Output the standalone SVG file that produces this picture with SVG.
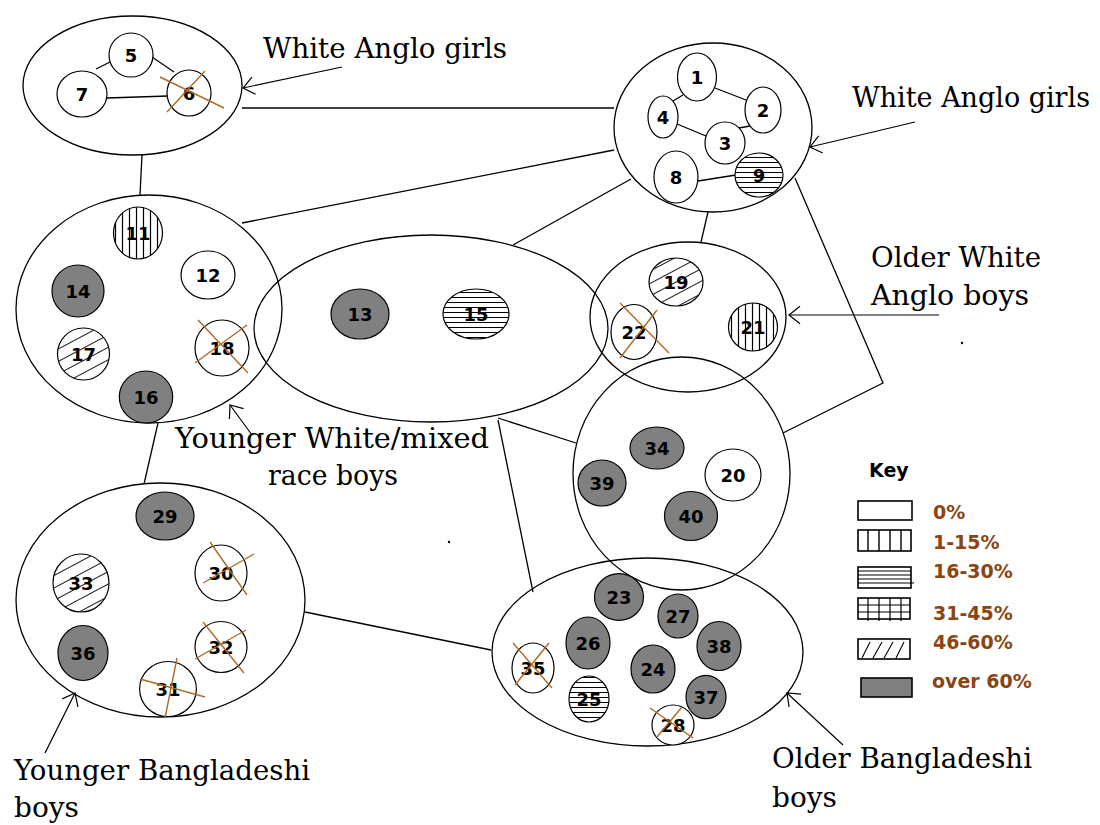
<svg xmlns="http://www.w3.org/2000/svg" width="1100" height="825" viewBox="0 0 1100 825">
<style>
.cl{fill:none;stroke:#000;stroke-width:1.3}
.nd{stroke:#000;stroke-width:1.2}
.w{fill:#fff}
.g{fill:#808080}
.pv{fill:url(#pv)}
.ph{fill:url(#ph)}
.pd{fill:url(#pd)}
.num{font-family:"DejaVu Sans",Verdana,sans-serif;font-weight:bold;font-size:18px;text-anchor:middle;fill:#000}
.x{stroke:#B06A25;stroke-width:1.4}
.ln{stroke:#000;stroke-width:1.3;fill:none}
.ar{stroke:#000;stroke-width:1.2;fill:none;marker-end:url(#ah)}
.lbl{font-family:"DejaVu Serif","Liberation Serif",serif;font-size:28px;fill:#000}
.kt{font-family:"DejaVu Sans",Verdana,sans-serif;font-weight:bold;font-size:19px;fill:#8B4513}
.kb{fill:#fff;stroke:#000;stroke-width:1.6}
.kl{stroke:#000;stroke-width:1.4}
</style>
<defs>
<pattern id="pv" patternUnits="userSpaceOnUse" width="7" height="7"><rect width="7" height="7" fill="#fff"/><line x1="3.5" y1="0" x2="3.5" y2="7" stroke="#000" stroke-width="1.2"/></pattern>
<pattern id="ph" patternUnits="userSpaceOnUse" width="5" height="5"><rect width="5" height="5" fill="#fff"/><line x1="0" y1="2.5" x2="5" y2="2.5" stroke="#000" stroke-width="1"/></pattern>
<pattern id="pd" patternUnits="userSpaceOnUse" width="11" height="11" patternTransform="rotate(-28)"><rect width="11" height="11" fill="#fff"/><line x1="0" y1="5.5" x2="11" y2="5.5" stroke="#000" stroke-width="0.9"/></pattern>
<marker id="ah" viewBox="0 0 10 16" refX="10" refY="8" markerWidth="11" markerHeight="17.6" markerUnits="userSpaceOnUse" orient="auto" style="overflow:visible"><path d="M0,0 L10,8 L0,16" fill="none" stroke="#000" stroke-width="1.1"/></marker>
</defs>
<rect width="1100" height="825" fill="#fff"/>

<g id="connectors">
<line class="ln" x1="242" y1="108" x2="614" y2="108"/>
<line class="ln" x1="142" y1="155" x2="140" y2="195"/>
<line class="ln" x1="614" y1="150" x2="242" y2="223"/>
<line class="ln" x1="631" y1="179" x2="513" y2="245"/>
<line class="ln" x1="708" y1="212" x2="701" y2="242"/>
<polyline class="ln" points="795,178 883,383 783,433"/>
<line class="ln" x1="498" y1="418" x2="576" y2="443"/>
<line class="ln" x1="498" y1="420" x2="533" y2="592"/>
<line class="ln" x1="158" y1="423" x2="144" y2="484"/>
<line class="ln" x1="305" y1="612" x2="491" y2="650"/>
<line class="ln" x1="96" y1="69" x2="110" y2="62"/>
<line class="ln" x1="152" y1="57" x2="174" y2="72"/>
<line class="ln" x1="107" y1="98" x2="168" y2="96"/>
<line class="ln" x1="683" y1="95" x2="673" y2="101"/>
<line class="ln" x1="715" y1="88" x2="746" y2="100"/>
<line class="ln" x1="677" y1="124" x2="706" y2="136"/>
<line class="ln" x1="739" y1="128" x2="750" y2="126"/>
<line class="ln" x1="698" y1="181" x2="736" y2="175"/>
</g>

<g id="clusters">
<ellipse id="cl-girls-a" class="cl" cx="132.5" cy="85.5" rx="109.5" ry="69.5"/>
<ellipse id="cl-girls-b" class="cl" cx="713" cy="127.5" rx="99" ry="84.5"/>
<ellipse id="cl-younger-white" class="cl" cx="149" cy="309" rx="133" ry="114"/>
<ellipse id="cl-middle" class="cl" cx="431" cy="328.5" rx="177" ry="93.5"/>
<ellipse id="cl-older-white" class="cl" cx="688" cy="317" rx="98" ry="75"/>
<ellipse id="cl-right" class="cl" cx="681.5" cy="473.5" rx="108.5" ry="116.5"/>
<ellipse id="cl-younger-bangla" class="cl" cx="160.5" cy="600" rx="144.5" ry="117"/>
<ellipse id="cl-older-bangla" class="cl" cx="647.5" cy="652" rx="155.5" ry="94"/>
</g>

<g id="n5"><ellipse class="nd w" cx="131" cy="55" rx="22" ry="22"/><text class="num" x="131" y="61.5">5</text></g>
<g id="n7"><ellipse class="nd w" cx="82" cy="94" rx="25" ry="23"/><text class="num" x="82" y="100.5">7</text></g>
<g id="n6"><ellipse class="nd w" cx="189" cy="93" rx="22" ry="23"/><text class="num" x="189" y="99.5">6</text><line class="x" x1="160" y1="77" x2="224" y2="108"/><line class="x" x1="167" y1="112" x2="205" y2="71"/></g>

<g id="n1"><ellipse class="nd w" cx="697" cy="77" rx="19.5" ry="24"/><text class="num" x="697" y="83.5">1</text></g>
<g id="n2"><ellipse class="nd w" cx="763" cy="110" rx="18" ry="23"/><text class="num" x="763" y="116.5">2</text></g>
<g id="n4"><ellipse class="nd w" cx="663" cy="117" rx="15" ry="21"/><text class="num" x="663" y="123.5">4</text></g>
<g id="n3"><ellipse class="nd w" cx="725" cy="143" rx="20" ry="21"/><text class="num" x="725" y="149.5">3</text></g>
<g id="n8"><ellipse class="nd w" cx="676" cy="177" rx="22" ry="26"/><text class="num" x="676" y="183.5">8</text></g>
<g id="n9"><ellipse class="nd ph" cx="759" cy="175" rx="24" ry="22"/><text class="num" x="759" y="181.5">9</text></g>

<g id="n11"><ellipse class="nd pv" cx="138" cy="233" rx="24.5" ry="26"/><text class="num" x="138" y="239.5">11</text></g>
<g id="n12"><ellipse class="nd w" cx="208" cy="275" rx="27" ry="24"/><text class="num" x="208" y="281.5">12</text></g>
<g id="n14"><ellipse class="nd g" cx="78" cy="291" rx="26" ry="26"/><text class="num" x="78" y="297.5">14</text></g>
<g id="n17"><ellipse class="nd pd" cx="83.5" cy="354" rx="26" ry="26"/><text class="num" x="83.5" y="360.5">17</text></g>
<g id="n18"><ellipse class="nd w" cx="222" cy="348" rx="27" ry="28"/><text class="num" x="222" y="354.5">18</text><line class="x" x1="198" y1="320" x2="248" y2="373"/><line class="x" x1="195" y1="363" x2="247" y2="325"/></g>
<g id="n16"><ellipse class="nd g" cx="146" cy="397" rx="26.7" ry="26"/><text class="num" x="146" y="403.5">16</text></g>

<g id="n13"><ellipse class="nd g" cx="360" cy="314" rx="29" ry="25"/><text class="num" x="360" y="320.5">13</text></g>
<g id="n15"><ellipse class="nd ph" cx="476" cy="314" rx="33" ry="25"/><text class="num" x="476" y="320.5">15</text></g>

<g id="n19"><ellipse class="nd pd" cx="676" cy="282" rx="27" ry="24"/><text class="num" x="676" y="288.5">19</text></g>
<g id="n22"><ellipse class="nd w" cx="634" cy="332" rx="23" ry="27.5"/><text class="num" x="634" y="338.5">22</text><line class="x" x1="620" y1="303" x2="669" y2="353"/><line class="x" x1="620" y1="358" x2="657" y2="310"/></g>
<g id="n21"><ellipse class="nd pv" cx="753" cy="327" rx="24.5" ry="24"/><text class="num" x="753" y="333.5">21</text></g>

<g id="n34"><ellipse class="nd g" cx="657" cy="448" rx="27" ry="21"/><text class="num" x="657" y="454.5">34</text></g>
<g id="n39"><ellipse class="nd g" cx="602" cy="483" rx="24" ry="23"/><text class="num" x="602" y="489.5">39</text></g>
<g id="n20"><ellipse class="nd w" cx="733" cy="475" rx="28" ry="26"/><text class="num" x="733" y="481.5">20</text></g>
<g id="n40"><ellipse class="nd g" cx="691" cy="516" rx="26.5" ry="24.5"/><text class="num" x="691" y="522.5">40</text></g>

<g id="n29"><ellipse class="nd g" cx="165" cy="516" rx="29" ry="24"/><text class="num" x="165" y="522.5">29</text></g>
<g id="n33"><ellipse class="nd pd" cx="81" cy="583" rx="28" ry="29"/><text class="num" x="81" y="589.5">33</text></g>
<g id="n30"><ellipse class="nd w" cx="221" cy="573" rx="26" ry="28"/><text class="num" x="221" y="579.5">30</text><line class="x" x1="210" y1="542" x2="247" y2="595"/><line class="x" x1="203" y1="583" x2="254" y2="554"/></g>
<g id="n36"><ellipse class="nd g" cx="83" cy="653" rx="25" ry="27.5"/><text class="num" x="83" y="659.5">36</text></g>
<g id="n32"><ellipse class="nd w" cx="221" cy="647" rx="26" ry="25.5"/><text class="num" x="221" y="653.5">32</text><line class="x" x1="203" y1="622" x2="244" y2="673"/><line class="x" x1="195" y1="659" x2="246" y2="630"/></g>
<g id="n31"><ellipse class="nd w" cx="168" cy="689" rx="28.4" ry="27.5"/><text class="num" x="168" y="695.5">31</text><line class="x" x1="140" y1="679" x2="205" y2="697"/><line class="x" x1="177" y1="658" x2="165" y2="718"/></g>

<g id="n23"><ellipse class="nd g" cx="619" cy="597" rx="24.5" ry="23.3"/><text class="num" x="619" y="603.5">23</text></g>
<g id="n27"><ellipse class="nd g" cx="678" cy="616" rx="20" ry="22"/><text class="num" x="678" y="622.5">27</text></g>
<g id="n26"><ellipse class="nd g" cx="588" cy="643" rx="22" ry="26"/><text class="num" x="588" y="649.5">26</text></g>
<g id="n38"><ellipse class="nd g" cx="719" cy="646" rx="22" ry="24.5"/><text class="num" x="719" y="652.5">38</text></g>
<g id="n24"><ellipse class="nd g" cx="653" cy="669" rx="22" ry="24"/><text class="num" x="653" y="675.5">24</text></g>
<g id="n35"><ellipse class="nd w" cx="533" cy="668" rx="21" ry="25"/><text class="num" x="533" y="674.5">35</text><line class="x" x1="513" y1="643" x2="552" y2="688"/><line class="x" x1="515" y1="685" x2="549" y2="643"/></g>
<g id="n25"><ellipse class="nd ph" cx="589" cy="699" rx="20" ry="23"/><text class="num" x="589" y="705.5">25</text></g>
<g id="n37"><ellipse class="nd g" cx="706" cy="697" rx="20" ry="21.7"/><text class="num" x="706" y="703.5">37</text></g>
<g id="n28"><ellipse class="nd w" cx="673" cy="725" rx="21" ry="20"/><text class="num" x="673" y="731.5">28</text><line class="x" x1="650" y1="708" x2="693" y2="738"/><line class="x" x1="657" y1="737" x2="682" y2="707"/></g>

<g id="annotations">
<line class="ar" x1="342" y1="67" x2="243" y2="88"/>
<text class="lbl" x="263" y="58" textLength="244" lengthAdjust="spacingAndGlyphs">White Anglo girls</text>
<line class="ar" x1="915" y1="122" x2="810" y2="147"/>
<text class="lbl" x="852" y="107" textLength="238" lengthAdjust="spacingAndGlyphs">White Anglo girls</text>
<line class="ar" x1="939" y1="315" x2="789" y2="315"/>
<text class="lbl" x="871" y="267" textLength="170" lengthAdjust="spacingAndGlyphs">Older White</text>
<text class="lbl" x="871" y="305" textLength="158" lengthAdjust="spacingAndGlyphs">Anglo boys</text>
<line class="ar" x1="252" y1="435" x2="230" y2="405"/>
<text class="lbl" x="175" y="448" textLength="314" lengthAdjust="spacingAndGlyphs">Younger White/mixed</text>
<text class="lbl" x="268" y="485" textLength="130" lengthAdjust="spacingAndGlyphs">race boys</text>
<line class="ar" x1="45" y1="753" x2="75" y2="693"/>
<text class="lbl" x="14" y="780" textLength="296" lengthAdjust="spacingAndGlyphs">Younger Bangladeshi</text>
<text class="lbl" x="14" y="817">boys</text>
<line class="ar" x1="843" y1="745" x2="787" y2="693"/>
<text class="lbl" x="772" y="768" textLength="260" lengthAdjust="spacingAndGlyphs">Older Bangladeshi</text>
<text class="lbl" x="772" y="807">boys</text>
<circle cx="962" cy="343" r="1.2" fill="#000"/>
<circle cx="449" cy="542" r="1.2" fill="#000"/>
</g>

<g id="key">
<text x="869" y="477" style="font-family:'DejaVu Sans',Verdana,sans-serif;font-weight:bold;font-size:19px">Key</text>
<rect class="kb" x="858" y="501" width="54" height="19"/>
<text class="kt" x="933" y="519">0%</text>
<rect class="kb" x="858" y="530" width="53" height="21"/>
<path class="kl" d="M868,530V551M879,530V551M890,530V551M901,530V551"/>
<text class="kt" x="933" y="549">1-15%</text>
<rect class="kb" x="858" y="567" width="53" height="21"/>
<path class="kl" d="M858,571H911M858,575H911M858,579H911M858,583H914" style="stroke-width:1"/>
<text class="kt" x="933" y="578">16-30%</text>
<rect class="kb" x="858" y="598" width="52" height="21"/>
<path class="kl" d="M868,598V621M879,598V621M890,598V621M901,598V621M858,605H910M858,612H910" style="stroke-width:1.2"/>
<text class="kt" x="933" y="620">31-45%</text>
<rect class="kb" x="858" y="639" width="52" height="20"/>
<path class="kl" d="M862,658L870,642M873,658L882,642M884,658L893,642M896,658L904,642" style="stroke-width:1.1"/>
<text class="kt" x="933" y="649">46-60%</text>
<rect x="861" y="678" width="51" height="19" fill="#808080" stroke="#000" stroke-width="1.6"/>
<text class="kt" x="932" y="688">over 60%</text>
</g>
</svg>
